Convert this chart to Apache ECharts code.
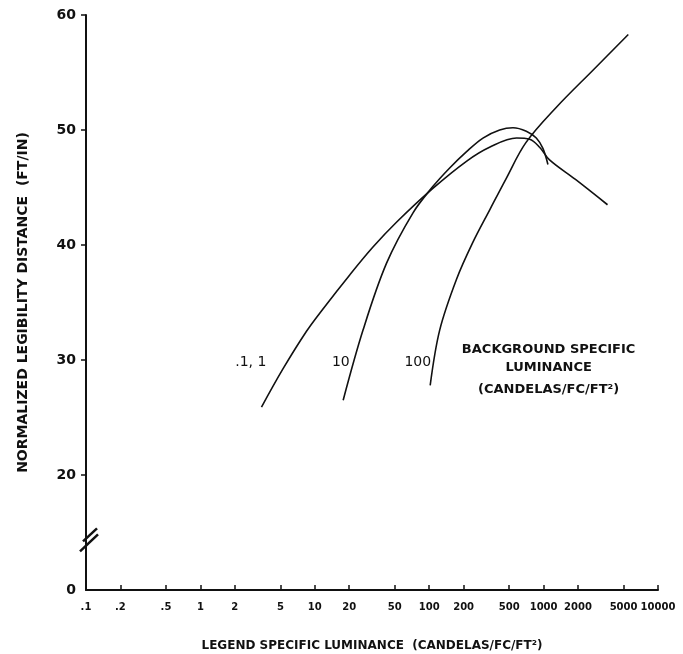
<!DOCTYPE html>
<html>
<head>
<meta charset="utf-8">
<script src="https://cdn.jsdelivr.net/npm/echarts@6.0.0/dist/echarts.min.js"></script>
<style>
html,body{margin:0;padding:0;background:#fff}
#main{width:683px;height:654px}
</style>
</head>
<body>
<div id="main"></div>
<script>
// tick values / labels (y axis is broken: 10 on the scale is shown as 0)
var xTicks = [0.1, 0.2, 0.5, 1, 2, 5, 10, 20, 50, 100, 200, 500, 1000, 2000, 5000, 10000];
var xTickLabels = ['.1', '.2', '.5', '1', '2', '5', '10', '20', '50', '100', '200', '500', '1000', '2000', '5000', '10000'];
var yTicks = [10, 20, 30, 40, 50, 60];
var yTickLabels = ['0', '20', '30', '40', '50', '60'];

// background specific luminance .1 and 1
var bg01X = [3.42, 5.25, 8.46, 11.7, 20.2, 32.1, 52, 107, 213, 337, 581, 755, 923, 1127, 1900, 3620];
var bg01Y = [25.9, 29.2, 32.5, 34.4, 37.4, 39.8, 42.0, 44.9, 47.3, 48.5, 49.3, 49.2, 48.5, 47.4, 45.7, 43.5];
// background 10
var bg10X = [17.7, 26.4, 42.3, 72.2, 108, 151, 211, 295, 413, 540, 706, 863, 986, 1091];
var bg10Y = [26.5, 32.6, 38.4, 42.8, 45.1, 46.7, 48.1, 49.3, 50.0, 50.2, 49.9, 49.3, 48.4, 47.0];
// background 100
var bg100X = [102, 123.5, 173, 240, 340, 472, 700, 1300, 2700, 5500];
var bg100Y = [27.8, 32.6, 37.0, 40.2, 43.1, 45.8, 48.9, 52.0, 55.2, 58.3];

function pairs(xs, ys) {
  var out = [];
  for (var i = 0; i < xs.length; i++) out.push([xs[i], ys[i]]);
  return out;
}

function xLabel(v) {
  var best = 0;
  for (var i = 0; i < xTicks.length; i++) {
    if (Math.abs(Math.log10(xTicks[i]) - Math.log10(v)) < Math.abs(Math.log10(xTicks[best]) - Math.log10(v))) best = i;
  }
  return xTickLabels[best];
}
function yLabel(v) {
  var i = yTicks.indexOf(Math.round(v));
  return i >= 0 ? yTickLabels[i] : '';
}

var ink = '#111';
var font = 'DejaVu Sans';

var chart = echarts.init(document.getElementById('main'));

function curve(name, xs, ys) {
  return {
    name: name,
    type: 'line',
    data: pairs(xs, ys),
    smooth: 0.35,
    showSymbol: false,
    silent: true,
    lineStyle: { color: ink, width: 1.6 }
  };
}

var option = {
  animation: false,
  backgroundColor: '#fff',
  grid: { left: 86, right: 25, top: 15, bottom: 64, containLabel: false, outerBoundsMode: 'none' },
  xAxis: {
    type: 'log',
    logBase: 10,
    min: 0.1,
    max: 10000,
    name: 'LEGEND SPECIFIC LUMINANCE  (CANDELAS/FC/FT²)',
    nameLocation: 'middle',
    nameGap: 50,
    nameTextStyle: { fontFamily: font, fontWeight: 'bold', fontSize: 12, color: ink },
    axisLine: { show: true, lineStyle: { color: ink, width: 2 } },
    axisTick: { show: true, inside: true, length: 5, customValues: xTicks, lineStyle: { color: ink, width: 1.5 } },
    axisLabel: { customValues: xTicks, formatter: xLabel, fontFamily: font, fontWeight: 'bold', fontSize: 10, color: ink, margin: 12 },
    minorTick: { show: false },
    splitLine: { show: false }
  },
  yAxis: {
    type: 'value',
    min: 10,
    max: 60,
    interval: 10,
    name: 'NORMALIZED LEGIBILITY DISTANCE  (FT/IN)',
    nameLocation: 'middle',
    nameRotate: 90,
    nameGap: 56,
    nameMoveOverlap: false,
    nameTextStyle: { fontFamily: font, fontWeight: 'bold', fontSize: 14, color: ink },
    axisLine: { show: true, lineStyle: { color: ink, width: 2 } },
    axisTick: { show: true, length: 5, customValues: [20, 30, 40, 50, 60], lineStyle: { color: ink, width: 1.5 } },
    axisLabel: { formatter: yLabel, fontFamily: font, fontWeight: 'bold', fontSize: 14, color: ink, margin: 10 },
    splitLine: { show: false }
  },
  series: [
    curve('.1, 1', bg01X, bg01Y),
    curve('10', bg10X, bg10Y),
    curve('100', bg100X, bg100Y)
  ]
};
chart.setOption(option);

// annotations and the axis break mark, placed through the axes
function px(x, y) { return chart.convertToPixel({ gridIndex: 0 }, [x, y]); }
var g = [];
function label(text, x, y, size, weight) {
  var p = px(x, y);
  g.push({
    type: 'text', silent: true,
    style: { text: text, x: p[0], y: p[1], align: 'center', verticalAlign: 'middle',
      font: weight + ' ' + size + 'px "' + font + '"', fill: ink }
  });
}
label('.1, 1', 2.76, 29.8, 14, 'normal');
label('10', 16.9, 29.8, 14, 'normal');
label('100', 79.4, 29.8, 14, 'normal');
label('BACKGROUND SPECIFIC', 1106, 30.9, 13, 'bold');
label('LUMINANCE', 1106, 29.3, 13, 'bold');
label('(CANDELAS/FC/FT²)', 1106, 27.4, 13, 'bold');

var b = px(0.1, 14.4);
g.push({ type: 'line', silent: true, shape: { x1: b[0] - 6, y1: b[1] + 12, x2: b[0] + 12, y2: b[1] - 5 }, style: { stroke: ink, lineWidth: 2.5 } });
g.push({ type: 'line', silent: true, shape: { x1: b[0] - 3, y1: b[1] + 2, x2: b[0] + 11, y2: b[1] - 11 }, style: { stroke: ink, lineWidth: 2.5 } });
chart.setOption({ graphic: g });
</script>
</body>
</html>
